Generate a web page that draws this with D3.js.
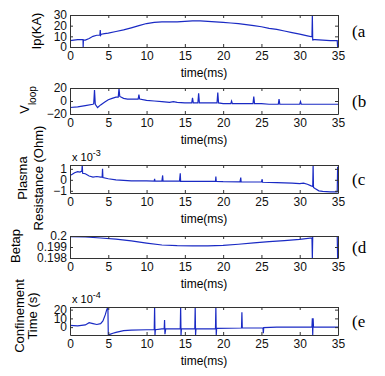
<!DOCTYPE html>
<html>
<head>
<meta charset="utf-8">
<script src="https://cdn.jsdelivr.net/npm/d3@7"></script>
<style>
  body { margin: 0; background: #fff; }
  svg text { font-family: "Liberation Sans", Arial, sans-serif; }
  .axis path, .axis line { stroke: #333; }
  .axis text { font-size: 12px; fill: #111; }
  .trace { fill: none; stroke: #1a2ac4; stroke-width: 1.2; }
  .tag { font-family: "Liberation Serif", "Times New Roman", serif !important; font-size: 17px; }
</style>
</head>
<body>
<svg id="chart"></svg>
<script>
// time (ms), value pairs
const ipData = [[0,6],[0.5,6.5],[1,7],[1.5,7],[1.7,7],[1.72,0],[1.75,6.5],[2,6.5],[2.5,8],[3,10],[3.5,11],[3.9,11],[3.95,16],[4.0,11],[4.1,12],[4.5,12.5],[5,13],[6,14.5],[7,16],[8,18],[9,20],[10,22],[11,23],[12,23.5],[13,23.5],[14,23.5],[15,24],[16,24.5],[17,24.5],[18,24],[19,23.5],[20,23],[21,22.5],[22,22],[23,21],[24,20],[25,19],[26,17.5],[27,16.5],[28,15],[29,13.5],[30,12],[31,10.5],[31.6,9.5],[31.65,30],[31.7,6],[31.75,7],[32,7],[33,6.5],[34,6],[34.9,6],[34.95,0]]
const vloopData = [[0,-10],[1,-9],[2,-7],[3,-5],[3.1,-4],[3.2,17],[3.3,-5],[3.6,-10],[4,-6],[4.5,-2],[5,2],[5.5,4],[6,6],[6.3,6],[6.4,19],[6.5,7],[7,4],[7.5,3],[8,3],[8.9,3],[9,10],[9.1,3],[10,1],[11,0],[12,-1],[13,-2],[13.5,-1],[14,-2],[15,-3],[15.9,-3],[16,5],[16.1,-3],[16.7,-3],[16.8,12],[16.9,-3],[18,-3],[19.2,-3],[19.3,13],[19.4,-3],[20,-4],[21,-4],[21.1,0],[21.2,-4],[22,-4],[23,-4],[23.9,-4],[24,7],[24.1,-4],[25,-4],[26,-5],[27.2,-5],[27.3,3],[27.4,-5],[28,-5],[29,-5],[30,-5],[30.1,-1],[30.2,-5],[31,-5],[32,-5],[33,-5],[34,-5],[35,-5]]
const resData = [[0,0.4],[0.3,0.5],[0.6,0.65],[1,0.75],[1.3,0.7],[1.55,0.8],[1.6,1.4],[1.65,0.6],[2,0.55],[2.5,0.35],[3,0.25],[3.5,0.3],[4,0.25],[4.2,0.25],[4.25,1.0],[4.3,0.2],[5,0.1],[6,0],[7,-0.05],[8,-0.1],[10,-0.1],[11,-0.12],[11.05,0.1],[11.1,-0.12],[12,-0.12],[12.1,0.4],[12.15,-0.12],[14.3,-0.12],[14.4,0.6],[14.45,-0.15],[16,-0.15],[18,-0.15],[19,-0.15],[19.05,0.3],[19.1,-0.15],[20,-0.17],[22.2,-0.18],[22.3,0.2],[22.35,-0.18],[25,-0.2],[25.1,0.05],[25.15,-0.22],[27,-0.25],[29,-0.3],[30,-0.35],[30.5,-0.3],[31,-0.4],[31.5,-0.55],[31.7,-0.6],[31.75,1.4],[31.8,-0.7],[32,-0.8],[32.5,-1.0],[33,-1.05],[34,-1.1],[34.9,-1.1],[34.95,1.2]]
const betapData = [[0,0.19994],[2,0.19992],[4,0.19982],[6,0.19972],[8,0.19955],[10,0.19935],[12,0.19918],[14,0.19912],[16,0.1991],[18,0.1991],[20,0.19915],[22,0.19925],[24,0.19937],[26,0.19948],[28,0.19958],[30,0.1997],[31.6,0.19983],[31.65,0.198],[31.7,0.19998],[33,0.19998],[34.9,0.19998],[34.95,0.198]]
const tauData = [[0,2],[1,1.5],[2,2.5],[2.5,5],[3,4],[3.5,3],[4,4],[4.3,7],[4.6,14],[4.8,20],[4.9,22],[4.95,23],[5.0,-9],[5.3,-8],[5.6,-7],[6,-6],[7,-4],[8,-3.5],[10,-3],[11,-3],[11.05,23],[11.1,-9],[11.15,-3],[12,-2],[12.3,-2],[12.35,8],[12.4,-8],[12.5,-2],[14.4,-2],[14.45,23],[14.5,-9],[14.55,-2],[16.3,-2],[16.35,23],[16.4,-9],[16.45,-2],[19,-2],[19.05,23],[19.1,-9],[19.15,-1.5],[22.4,-1],[22.45,17],[22.5,-1],[25,-1],[25.2,-1],[25.25,-7],[25.3,-0.5],[27,0],[30,0],[31.6,0],[31.65,10],[31.7,-9],[31.75,10],[31.8,0],[35,0]]

const timeTicks = [0, 5, 10, 15, 20, 25, 30, 35]
const ipTicks = [0, 10, 20, 30]
const vloopTicks = [-20, 0, 20]
const resTicks = [-1, 0, 1]
const betapTicks = [0.198, 0.199, 0.2]
const tauTicks = [0, 10, 20]

const panels = [
  {data: ipData, domain: [0, 30], ticks: ipTicks, fmt: d3.format('d'), top: 15, bottom: 47, tag: '(a',
    label: ['Ip(KA)'], labelX: [41], labelY: 31},
  {data: vloopData, domain: [-20, 20], ticks: vloopTicks, fmt: d3.format('d'), top: 88, bottom: 114, tag: '(b',
    label: 'vloop', labelX: [29], labelY: 100},
  {data: resData, domain: [-1.2, 1.35], ticks: resTicks, fmt: d3.format('d'), top: 165, bottom: 193, tag: '(c',
    label: ['Plasma', 'Resistance (Ohm)'], labelX: [27, 43], labelY: 178, exp: '-3'},
  {data: betapData, domain: [0.198, 0.2], ticks: betapTicks, fmt: d => d === 0.2 ? '0.2' : d3.format('.3f')(d), top: 236, bottom: 258, tag: '(d',
    label: ['Betap'], labelX: [20], labelY: 246},
  {data: tauData, domain: [-9, 23], ticks: tauTicks, fmt: d3.format('d'), top: 307, bottom: 335, tag: '(e',
    label: ['Confinement', 'Time (s)'], labelX: [24, 37], labelY: 316, exp: '-4'}
]

const W = 385, H = 376
const left = 70, right = 338

const svg = d3.select('#chart').attr('width', W).attr('height', H)

const x = d3.scaleLinear().domain([0, 35]).range([left, right])

panels.forEach((p, i) => {
  const y = d3.scaleLinear().domain(p.domain).range([p.bottom, p.top])
  const g = svg.append('g')

  g.append('clipPath').attr('id', 'clip' + i)
    .append('rect')
    .attr('x', left).attr('y', p.top)
    .attr('width', right - left).attr('height', p.bottom - p.top)

  const line = d3.line().x(d => x(d[0])).y(d => y(d[1]))
  g.append('path')
    .datum(p.data)
    .attr('class', 'trace')
    .attr('clip-path', `url(#clip${i})`)
    .attr('d', line)

  // MATLAB style box with inward ticks
  g.append('g').attr('class', 'axis')
    .attr('transform', `translate(0,${p.bottom})`)
    .call(d3.axisBottom(x).tickValues(timeTicks).tickSize(-3).tickSizeOuter(0).tickPadding(4))
  g.append('g').attr('class', 'axis')
    .attr('transform', `translate(0,${p.top})`)
    .call(d3.axisTop(x).tickValues(timeTicks).tickSize(-3).tickSizeOuter(0).tickFormat(''))
  g.append('g').attr('class', 'axis')
    .attr('transform', `translate(${left},0)`)
    .call(d3.axisLeft(y).tickValues(p.ticks).tickSize(-3).tickSizeOuter(0).tickPadding(3).tickFormat(p.fmt))
  g.append('g').attr('class', 'axis')
    .attr('transform', `translate(${right},0)`)
    .call(d3.axisRight(y).tickValues(p.ticks).tickSize(-3).tickSizeOuter(0).tickFormat(''))

  g.append('text')
    .attr('x', (left + right) / 2)
    .attr('y', p.bottom + 30)
    .attr('text-anchor', 'middle')
    .attr('font-size', 12)
    .text('time(ms)')

  if (p.label === 'vloop') {
    const t = g.append('text')
      .attr('transform', `translate(${p.labelX[0]},${p.labelY}) rotate(-90)`)
      .attr('text-anchor', 'middle')
      .attr('font-size', 13)
    t.append('tspan').text('V')
    t.append('tspan').attr('dy', 7).attr('font-size', 10).text('loop')
  } else {
    p.label.forEach((s, k) => {
      g.append('text')
        .attr('transform', `translate(${p.labelX[k]},${p.labelY}) rotate(-90)`)
        .attr('text-anchor', 'middle')
        .attr('font-size', 13)
        .text(s)
    })
  }

  if (p.exp) {
    const t = g.append('text')
      .attr('x', 72).attr('y', p.top - 4)
      .attr('font-size', 11)
    t.append('tspan').text('x 10')
    t.append('tspan').attr('dy', -5).attr('font-size', 9).text(p.exp)
  }

  g.append('text')
    .attr('class', 'tag')
    .attr('x', 352)
    .attr('y', (p.top + p.bottom) / 2 + 6)
    .text(p.tag)
})
</script>
</body>
</html>
